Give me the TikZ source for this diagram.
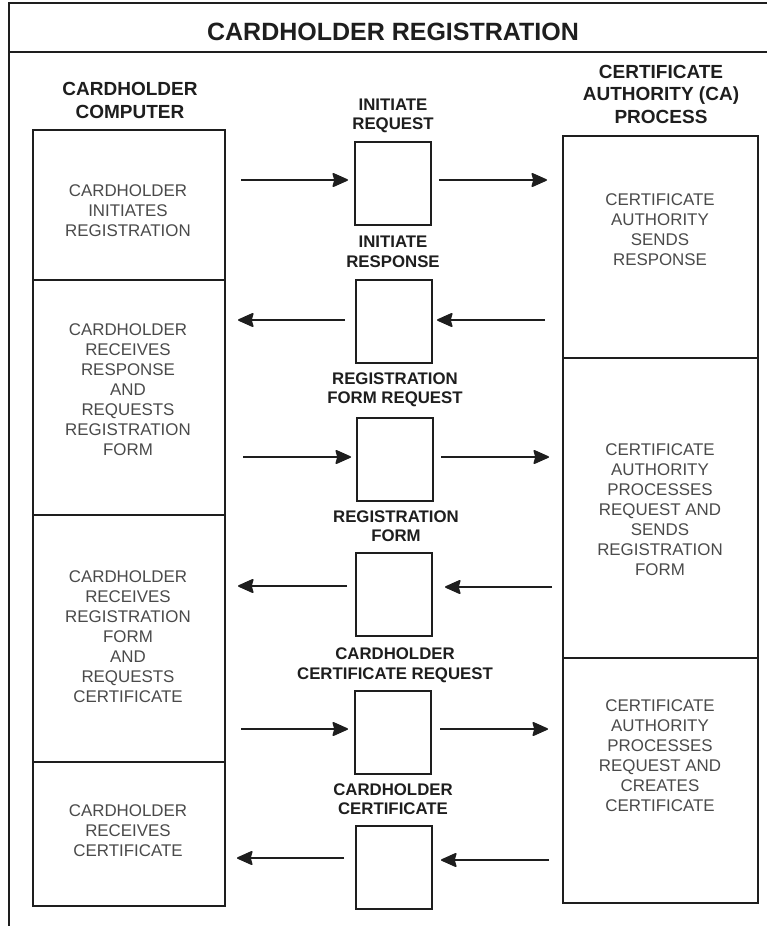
\documentclass[tikz,border=0pt]{standalone}
\usepackage{fontspec}
\setmainfont{Liberation Sans}
\usetikzlibrary{arrows.meta}
\definecolor{ink}{HTML}{1E1E1E}
\definecolor{bodygray}{HTML}{4A4A4A}
\tikzset{
  frameline/.style={draw=ink, line width=2pt},
  colbox/.style={draw=ink, line width=1.6pt, rectangle, inner sep=0pt, anchor=north west},
  msgbox/.style={draw=ink, line width=1.6pt, rectangle, inner sep=0pt, anchor=north west,
                 minimum width=76pt, minimum height=83pt},
  titletext/.style={font=\fontsize{25}{30}\selectfont\bfseries, text=ink, inner sep=0pt},
  headtext/.style={font=\fontsize{19}{22.5}\selectfont\bfseries, text=ink, align=center, inner sep=0pt},
  labeltext/.style={font=\fontsize{16.8}{19.5}\selectfont\bfseries, text=ink, align=center, inner sep=0pt},
  bodytext/.style={font=\fontsize{16.9}{20}\selectfont, text=bodygray, align=center, inner sep=0pt},
  flow/.style={draw=ink, line width=1.6pt, -{Stealth[length=17pt,width=15pt,inset=2pt,round]}}
}
\begin{document}
\begin{tikzpicture}[x=1pt,y=-1pt]
\useasboundingbox (0,0) rectangle (767,926);
% frame
\coordinate (ftl) at (9,3);
\coordinate (ftr) at (767,3);
\coordinate (fbl) at (9,926);
\coordinate (fsl) at (9,52);
\coordinate (fsr) at (767,52);
\draw[frameline] (ftr) -- (ftl) -- (fbl);
\draw[frameline] (fsl) -- (fsr);
\node[titletext] (title) at (393,32) {CARDHOLDER REGISTRATION};

% column headings
\node[headtext] (hleft) at (130,100.5) {CARDHOLDER\\COMPUTER};
\node[headtext] (hright) at (661,94) {CERTIFICATE\\AUTHORITY (CA)\\PROCESS};

% left column boxes
\node[colbox, minimum width=192pt, minimum height=150pt] (L1) at (32,129) {};
\node[colbox, minimum width=192pt, minimum height=235pt] (L2) at (32,279) {};
\node[colbox, minimum width=192pt, minimum height=247pt] (L3) at (32,514) {};
\node[colbox, minimum width=192pt, minimum height=144pt] (L4) at (32,761) {};

% right column boxes
\node[colbox, minimum width=195pt, minimum height=222pt] (R1) at (562,135) {};
\node[colbox, minimum width=195pt, minimum height=300pt] (R2) at (562,357) {};
\node[colbox, minimum width=195pt, minimum height=245pt] (R3) at (562,657) {};

% body texts
\node[bodytext] (tL1) at (128,210.5) {CARDHOLDER\\INITIATES\\REGISTRATION};
\node[bodytext] (tL2) at (128,390) {CARDHOLDER\\RECEIVES\\RESPONSE\\AND\\REQUESTS\\REGISTRATION\\FORM};
\node[bodytext] (tL3) at (128,637) {CARDHOLDER\\RECEIVES\\REGISTRATION\\FORM\\AND\\REQUESTS\\CERTIFICATE};
\node[bodytext] (tL4) at (128,831) {CARDHOLDER\\RECEIVES\\CERTIFICATE};
\node[bodytext] (tR1) at (660,230) {CERTIFICATE\\AUTHORITY\\SENDS\\RESPONSE};
\node[bodytext] (tR2) at (660,510) {CERTIFICATE\\AUTHORITY\\PROCESSES\\REQUEST AND\\SENDS\\REGISTRATION\\FORM};
\node[bodytext] (tR3) at (660,756) {CERTIFICATE\\AUTHORITY\\PROCESSES\\REQUEST AND\\CREATES\\CERTIFICATE};

% message labels
\node[labeltext] (m1) at (393,116) {INITIATE\\REQUEST};
\node[labeltext] (m2) at (393,252) {INITIATE\\RESPONSE};
\node[labeltext] (m3) at (395,390) {REGISTRATION\\FORM REQUEST};
\node[labeltext] (m4) at (396,526) {REGISTRATION\\FORM};
\node[labeltext] (m5) at (395,665.5) {CARDHOLDER\\CERTIFICATE REQUEST};
\node[labeltext] (m6) at (393,799) {CARDHOLDER\\CERTIFICATE};

% message boxes
\node[msgbox] (B1) at (354,141) {};
\node[msgbox] (B2) at (355,279) {};
\node[msgbox] (B3) at (356,417) {};
\node[msgbox] (B4) at (355,552) {};
\node[msgbox] (B5) at (354,690) {};
\node[msgbox] (B6) at (355,825) {};

% arrows
\coordinate (a1s) at (241,180); \coordinate (a1e) at (348,180);
\coordinate (b1s) at (439,180); \coordinate (b1e) at (547,180);
\coordinate (a2s) at (345,320); \coordinate (a2e) at (238,320);
\coordinate (b2s) at (545,320); \coordinate (b2e) at (437,320);
\coordinate (a3s) at (243,457); \coordinate (a3e) at (351,457);
\coordinate (b3s) at (441,457); \coordinate (b3e) at (549,457);
\coordinate (a4s) at (347,586); \coordinate (a4e) at (238,586);
\coordinate (b4s) at (552,587); \coordinate (b4e) at (445,587);
\coordinate (a5s) at (241,729); \coordinate (a5e) at (348,729);
\coordinate (b5s) at (440,729); \coordinate (b5e) at (548,729);
\coordinate (a6s) at (344,858); \coordinate (a6e) at (237,858);
\coordinate (b6s) at (549,860); \coordinate (b6e) at (441,860);
\foreach \p in {a1,b1,a2,b2,a3,b3,a4,b4,a5,b5,a6,b6}{
  \draw[flow] (\p s) -- (\p e);
}
\end{tikzpicture}
\end{document}
